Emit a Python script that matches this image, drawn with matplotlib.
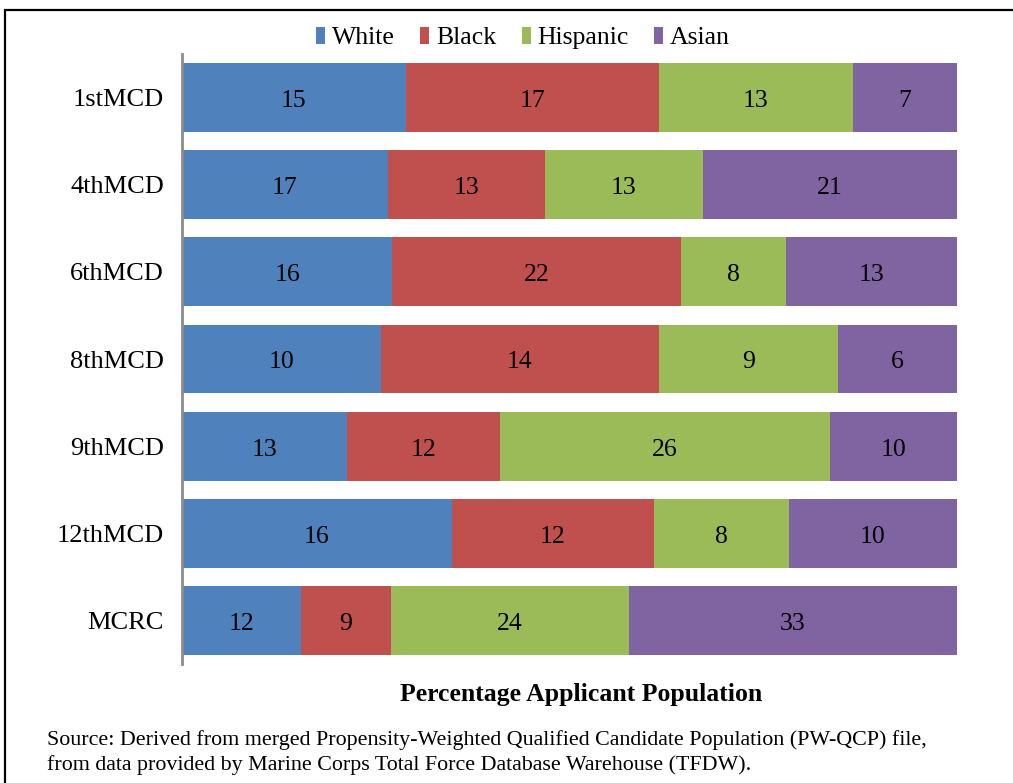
import matplotlib
matplotlib.use("Agg")
import matplotlib.pyplot as plt
from matplotlib.patches import Rectangle, Patch
import numpy as np

categories = ["1stMCD", "4thMCD", "6thMCD", "8thMCD", "9thMCD", "12thMCD", "MCRC"]
series = ["White", "Black", "Hispanic", "Asian"]
white = [15, 17, 16, 10, 13, 16, 12]
black = [17, 13, 22, 14, 12, 12, 9]
hispanic = [13, 13, 8, 9, 26, 8, 24]
asian = [7, 21, 13, 6, 10, 10, 33]
colors = ["#4F81BD", "#C0504D", "#9BBB59", "#8064A2"]

plt.rcParams['font.family'] = ['Liberation Serif', 'DejaVu Serif']

fig = plt.figure(figsize=(10.13, 7.83), dpi=100)
ax = fig.add_axes([182/1013, 1-664/783, (957-182)/1013, (664-54)/783])

data = np.array([white, black, hispanic, asian], dtype=float)
totals = data.sum(axis=0)
shares = data / totals
y = np.arange(len(categories))
left = np.zeros(len(categories))
for i, name in enumerate(series):
    ax.barh(y, shares[i], left=left, height=0.79, color=colors[i],
            edgecolor='none', label=name)
    for j in range(len(categories)):
        ax.text(left[j] + shares[i][j] / 2, y[j] + 0.04, f"{int(data[i][j])}",
                ha='center', va='center', fontsize=18.5, color='black')
    left += shares[i]

ax.set_xlim(0, 1)
ax.set_ylim(len(categories) - 0.5, -0.5)
ax.set_yticks(y)
ax.set_yticklabels(categories, fontsize=19)
for lbl in ax.get_yticklabels():
    lbl.set_va('center_baseline')
ax.tick_params(axis='y', length=0, pad=13)
ax.set_xticks([])
for s in ['top', 'right', 'bottom']:
    ax.spines[s].set_visible(False)
ax.spines['left'].set_color('#8c8c8c')
ax.spines['left'].set_linewidth(2)

handles = [Patch(facecolor=c, edgecolor='none') for c in colors]
fig.legend(handles, series, loc='center', bbox_to_anchor=(523/1013, 1-38/783),
           ncol=4, frameon=False, fontsize=18.5, handlelength=0.35, handleheight=0.7,
           handletextpad=0.25, columnspacing=1.0)

fig.text(581/1013, 1-695/783, "Percentage Applicant Population", ha='center', va='center',
         fontsize=18.5, fontweight='bold')
fig.text(47/1013, 1-740/783,
         "Source: Derived from merged Propensity-Weighted Qualified Candidate Population (PW-QCP) file,",
         ha='left', va='center', fontsize=15.8)
fig.text(47/1013, 1-765/783,
         "from data provided by Marine Corps Total Force Database Warehouse (TFDW).",
         ha='left', va='center', fontsize=15.8)

border = Rectangle((5/1013, -0.05), 1.2, 1 - 10/783 + 0.05, transform=fig.transFigure,
                   fill=False, edgecolor='black', linewidth=1.6, clip_on=False)
fig.add_artist(border)

fig.savefig("out.png", dpi=100)
